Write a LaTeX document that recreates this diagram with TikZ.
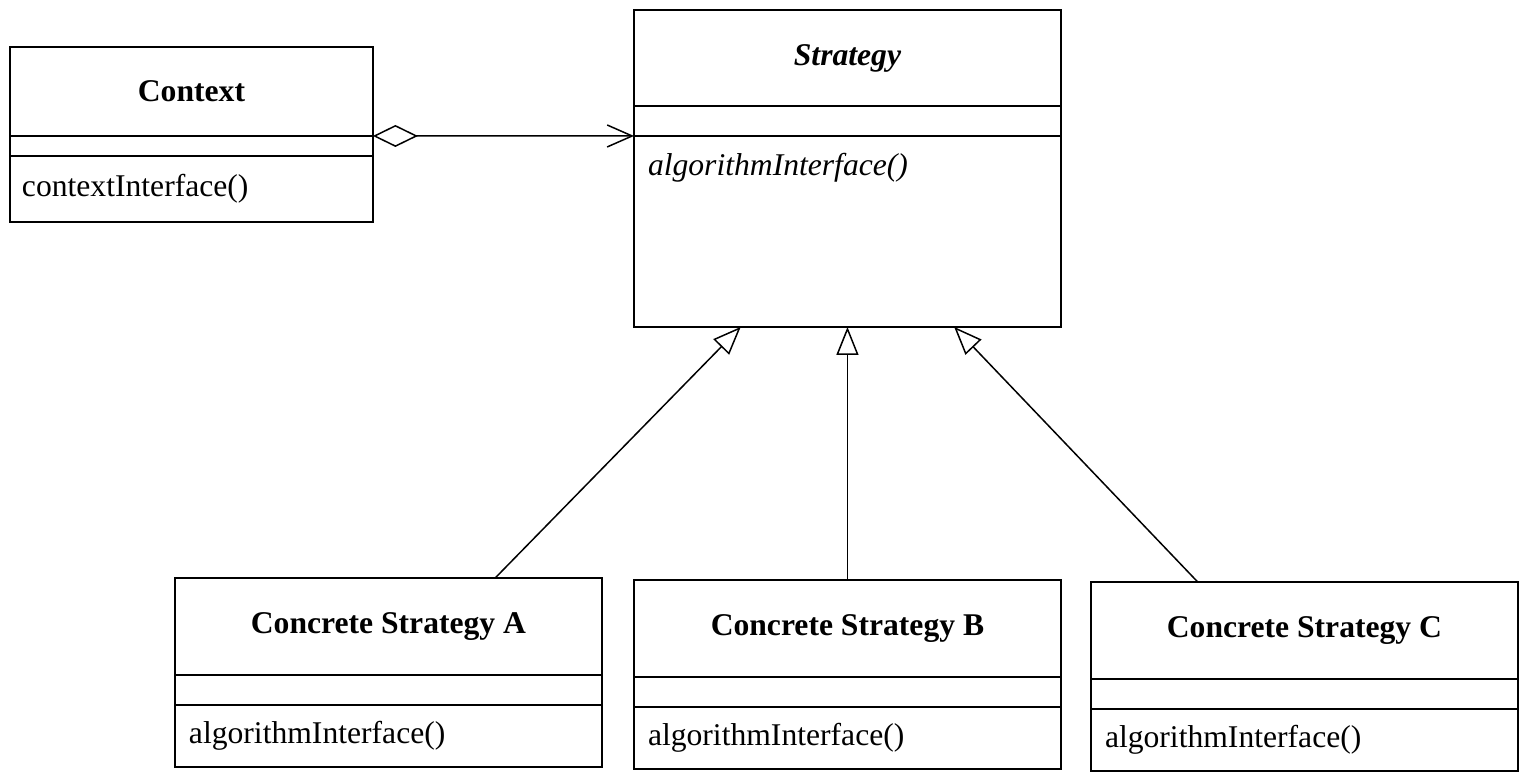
\documentclass[tikz,border=0pt]{standalone}
\usepackage{fontspec}
\setmainfont{Liberation Serif}
\usetikzlibrary{arrows.meta,positioning,calc}

\begin{document}
\begin{tikzpicture}[
    x=0.02cm, y=-0.02cm,
    node distance=0pt,
    part/.style={draw, line width=0.85pt, inner sep=0pt, outer sep=0pt, font=\fontsize{18}{22}\selectfont},
    classname/.style={part, anchor=north west, minimum width=8.54cm, minimum height=1.94cm, font=\fontsize{18}{22}\selectfont\bfseries},
    classattr/.style={part, minimum width=8.54cm, minimum height=0.6cm},
    classops/.style={part, align=left, inner xsep=0.28cm, text width=7.98cm, minimum height=1.24cm},
    assoc/.style={{Diamond[open, length=0.9cm, width=0.44cm]}-{Straight Barb[length=0.5cm, width=0.44cm]}, line width=0.85pt},
    inherit/.style={-{Triangle[open, length=0.56cm, width=0.44cm]}, line width=0.85pt}
]
\useasboundingbox (0,0) rectangle (1519,773);

\node[classname, minimum width=7.26cm, minimum height=1.78cm] (ctx) at (10,47) {Context};
\node[classattr, minimum width=7.26cm, minimum height=0.4cm, below=of ctx] (ctxattr) {};
\node[classops, inner xsep=0.24cm, text width=6.78cm, minimum height=1.32cm, below=of ctxattr] (ctxops) {contextInterface()};

\node[classname, minimum height=1.92cm] (strat) at (634,10) {\itshape Strategy};
\node[classattr, below=of strat] (stratattr) {};
\node[classops, text height=0.8cm, text depth=3.02cm, below=of stratattr] (stratops) {\textit{algorithmInterface()}};

\node[classname] (csa) at (175,578) {Concrete Strategy A};
\node[classattr, below=of csa] (csaattr) {};
\node[classops, below=of csaattr] (csaops) {algorithmInterface()};

\node[classname] (csb) at (634,580) {Concrete Strategy B};
\node[classattr, below=of csb] (csbattr) {};
\node[classops, below=of csbattr] (csbops) {algorithmInterface()};

\node[classname] (csc) at (1091,582) {Concrete Strategy C};
\node[classattr, below=of csc] (cscattr) {};
\node[classops, below=of cscattr] (cscops) {algorithmInterface()};

\draw[assoc] (ctx.south east) -- (stratattr.south west);
\draw[inherit] ($(csa.north west)!.75!(csa.north east)$) -- ($(stratops.south west)!.25!(stratops.south east)$);
\draw[inherit] (csb.north) -- (stratops.south);
\draw[inherit] ($(csc.north west)!.25!(csc.north east)$) -- ($(stratops.south west)!.75!(stratops.south east)$);
\end{tikzpicture}
\end{document}
